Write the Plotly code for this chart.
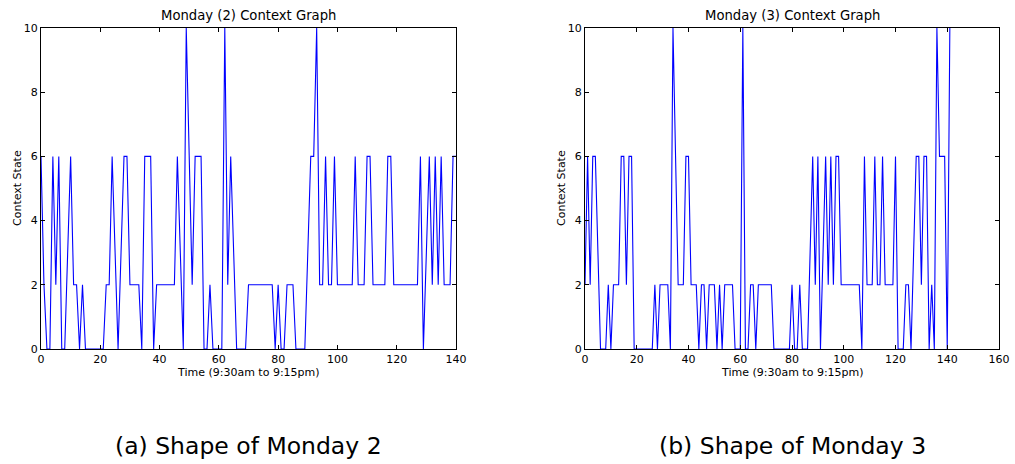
import plotly.graph_objects as go

time_a = list(range(141))
state_a = [6, 2, 0, 0, 6, 2, 6, 0, 0, 3, 6, 2, 2, 0, 2, 0, 0, 0, 0, 0,
           0, 0, 2, 2, 6, 3, 0, 3, 6, 6, 2, 2, 2, 2, 0, 6, 6, 6, 0, 2,
           2, 2, 2, 2, 2, 2, 6, 3, 0, 10, 6, 2, 6, 6, 6, 0, 0, 2, 0, 0,
           0, 0, 10, 2, 6, 3, 0, 0, 0, 0, 2, 2, 2, 2, 2, 2, 2, 2, 2, 0,
           2, 0, 0, 2, 2, 2, 0, 0, 0, 0, 3, 6, 6, 10, 2, 2, 6, 2, 2, 6,
           2, 2, 2, 2, 2, 2, 6, 2, 2, 2, 6, 6, 2, 2, 2, 2, 2, 6, 6, 2,
           2, 2, 2, 2, 2, 2, 2, 2, 6, 0, 3, 6, 2, 6, 2, 6, 2, 2, 2, 6,
           6]

time_b = list(range(142))
state_b = [2, 6, 2, 6, 6, 3, 0, 0, 0, 2, 0, 2, 2, 2, 6, 6, 2, 6, 6, 0,
           0, 0, 0, 0, 0, 0, 0, 2, 0, 2, 2, 2, 2, 0, 10, 6, 2, 2, 2, 6,
           6, 2, 2, 2, 0, 2, 2, 0, 2, 2, 2, 0, 2, 0, 2, 2, 2, 2, 0, 0,
           0, 10, 0, 0, 2, 2, 0, 2, 2, 2, 2, 2, 2, 0, 0, 0, 0, 0, 0, 0,
           2, 0, 0, 2, 0, 0, 0, 3, 6, 2, 6, 0, 3, 6, 2, 6, 2, 6, 6, 2,
           2, 2, 2, 2, 2, 2, 2, 0, 6, 2, 2, 2, 6, 2, 2, 6, 2, 2, 2, 2,
           6, 0, 0, 0, 2, 2, 0, 3, 6, 6, 2, 6, 6, 0, 2, 0, 10, 6, 6, 6,
           0, 10]

titles = ["Monday (2) Context Graph", "Monday (3) Context Graph"]
captions = ["(a) Shape of Monday 2", "(b) Shape of Monday 3"]
x_label = "Time (9:30am to 9:15pm)"
y_label = "Context State"
x_ticks_a = [0, 20, 40, 60, 80, 100, 120, 140]
x_ticks_b = [0, 20, 40, 60, 80, 100, 120, 140, 160]
y_ticks = [0, 2, 4, 6, 8, 10]

W, H = 1015, 464
def px(x):
    return x / W
def py(y):
    return 1 - y / H

fig = go.Figure()
fig.add_trace(go.Scatter(x=time_a, y=state_a, mode="lines",
                         line=dict(color="#0000ff", width=1.1),
                         xaxis="x", yaxis="y", showlegend=False, cliponaxis=False))
fig.add_trace(go.Scatter(x=time_b, y=state_b, mode="lines",
                         line=dict(color="#0000ff", width=1.1),
                         xaxis="x2", yaxis="y2", showlegend=False, cliponaxis=False))

tickfont = dict(family="DejaVu Sans", size=11, color="black")
axis_common = dict(showline=True, linecolor="black", linewidth=1, mirror="allticks",
                   ticks="inside", ticklen=4, tickcolor="black", showgrid=False,
                   zeroline=False, tickfont=tickfont, automargin=False)

dom_y = [py(349), py(28)]
fig.update_layout(
    width=W, height=H, margin=dict(l=0, r=0, t=0, b=0, autoexpand=False),
    paper_bgcolor="white", plot_bgcolor="white",
    xaxis=dict(domain=[px(41), px(456)], range=[0, 140], tickvals=x_ticks_a,
               anchor="y", ticklabelstandoff=0, **axis_common),
    yaxis=dict(domain=dom_y, range=[0, 10], tickvals=y_ticks, anchor="x", **axis_common),
    xaxis2=dict(domain=[px(585), px(999)], range=[0, 160], tickvals=x_ticks_b,
                anchor="y2", ticklabelstandoff=0, **axis_common),
    yaxis2=dict(domain=dom_y, range=[0, 10], tickvals=y_ticks, anchor="x2", **axis_common),
)

anns = []
centers = [(41 + 456) / 2, (585 + 999) / 2]
for i, c in enumerate(centers):
    anns.append(dict(x=px(c), y=py(16), xref="paper", yref="paper", text=titles[i],
                     showarrow=False, font=dict(family="DejaVu Sans", size=13.2, color="black"),
                     xanchor="center", yanchor="middle"))
    anns.append(dict(x=px(c), y=py(372), xref="paper", yref="paper", text=x_label,
                     showarrow=False, font=dict(family="DejaVu Sans", size=11, color="black"),
                     xanchor="center", yanchor="middle"))
    anns.append(dict(x=px(c), y=py(446), xref="paper", yref="paper", text=captions[i],
                     showarrow=False, font=dict(family="DejaVu Sans", size=23.5, color="black"),
                     xanchor="center", yanchor="middle"))
for lx in [17, 561]:
    anns.append(dict(x=px(lx), y=py(188), xref="paper", yref="paper", text=y_label,
                     showarrow=False, textangle=-90,
                     font=dict(family="DejaVu Sans", size=11, color="black"),
                     xanchor="center", yanchor="middle"))
fig.update_layout(annotations=anns)

fig.write_html("out.html")
